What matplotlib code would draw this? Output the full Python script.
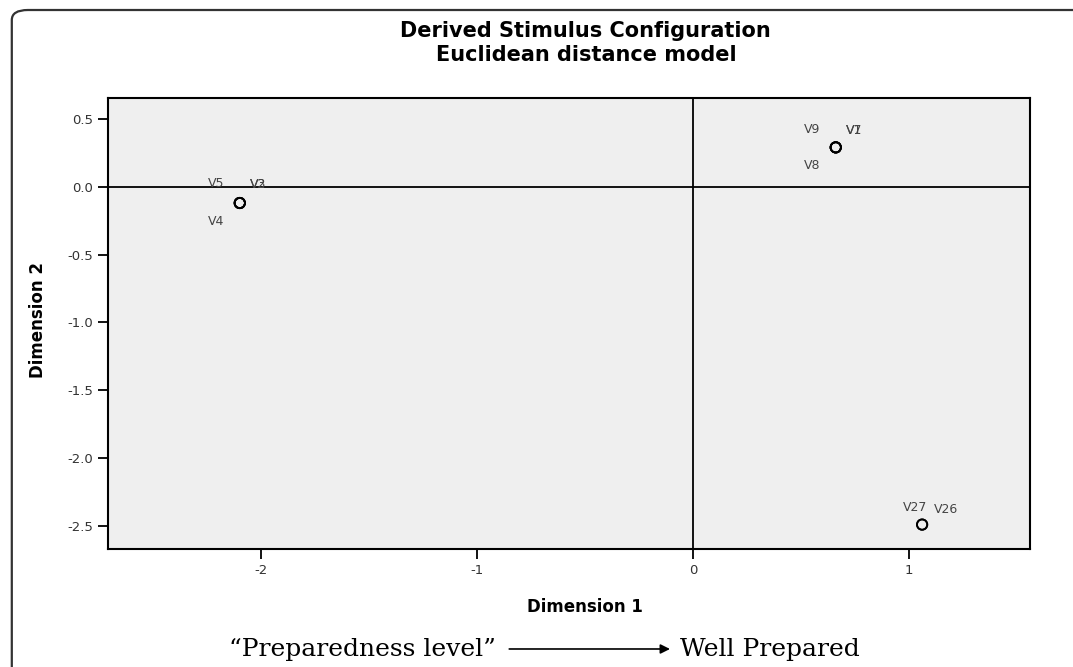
import matplotlib.pyplot as plt
from matplotlib.patches import FancyBboxPatch

# stimulus coordinates (Dimension 1, Dimension 2)
labels = ["V5", "V3", "V2", "V4", "V9", "V7", "V1", "V8", "V27", "V26"]
dim1 = [-2.10, -2.10, -2.10, -2.10, 0.66, 0.66, 0.66, 0.66, 1.06, 1.06]
dim2 = [-0.12, -0.12, -0.12, -0.12, 0.29, 0.29, 0.29, 0.29, -2.49, -2.49]
# label offsets in points
offsets = [(-17, 14), (13, 13), (13, 13), (-17, -13), (-17, 13), (13, 12),
           (13, 12), (-17, -13), (-5, 12), (17, 11)]

xticks = [-2, -1, 0, 1]
yticks = [0.5, 0.0, -0.5, -1.0, -1.5, -2.0, -2.5]

plt.rcParams['font.family'] = ['DejaVu Sans']
plt.rcParams['axes.unicode_minus'] = False

fig = plt.figure(figsize=(10.73, 6.67), dpi=100)
ax = fig.add_axes([0.1007, 0.1769, 0.8593, 0.6762])
ax.set_facecolor("#efefef")

ax.axhline(0, color="black", linewidth=1.3, zorder=1)
ax.axvline(0, color="black", linewidth=1.3, zorder=1)
ax.scatter(dim1, dim2, s=55, facecolors="none", edgecolors="black", linewidths=1.3, zorder=3)
for lab, x, y, off in zip(labels, dim1, dim2, offsets):
    ax.annotate(lab, (x, y), xytext=off, textcoords="offset points",
                ha="center", va="center", fontsize=9, color="#444444")

ax.set_xlim(-2.71, 1.56)
ax.set_ylim(-2.67, 0.654)
ax.set_xticks(xticks)
ax.set_xticklabels([str(t) for t in xticks])
ax.set_yticks(yticks)
ax.set_yticklabels(["%.1f" % t for t in yticks])
ax.tick_params(direction="out", length=7, width=1.3, labelsize=9.5,
               labelcolor="#333333", pad=4)
for sp in ax.spines.values():
    sp.set_linewidth(1.5)

fig.text(0.546, 0.953, "Derived Stimulus Configuration", ha="center", va="center",
         fontsize=15, fontweight="bold")
fig.text(0.546, 0.918, "Euclidean distance model", ha="center", va="center",
         fontsize=15, fontweight="bold")
fig.text(0.545, 0.09, "Dimension 1", ha="center", va="center", fontsize=12,
         fontweight="bold")
fig.text(0.035, 0.52, "Dimension 2", ha="center", va="center", fontsize=12,
         fontweight="bold", rotation=90)

# bottom caption
fig.text(0.213, 0.026, "\u201cPreparedness level\u201d", ha="left", va="center",
         fontsize=18, family="DejaVu Serif")
fig.text(0.634, 0.026, "Well Prepared", ha="left", va="center",
         fontsize=18, family="DejaVu Serif")
fig.add_artist(plt.Annotation("", xy=(0.627, 0.027), xytext=(0.472, 0.027),
                              xycoords="figure fraction",
                              arrowprops=dict(arrowstyle="-|>", color="black",
                                              lw=1.2, mutation_scale=14)))

# outer frame
frame = FancyBboxPatch((0.011, -0.2), 1.2, 1.185, boxstyle="round,pad=0,rounding_size=0.015",
                       transform=fig.transFigure, fill=False, edgecolor="#333333",
                       linewidth=1.6)
fig.add_artist(frame)

fig.savefig("out.png", dpi=100)
